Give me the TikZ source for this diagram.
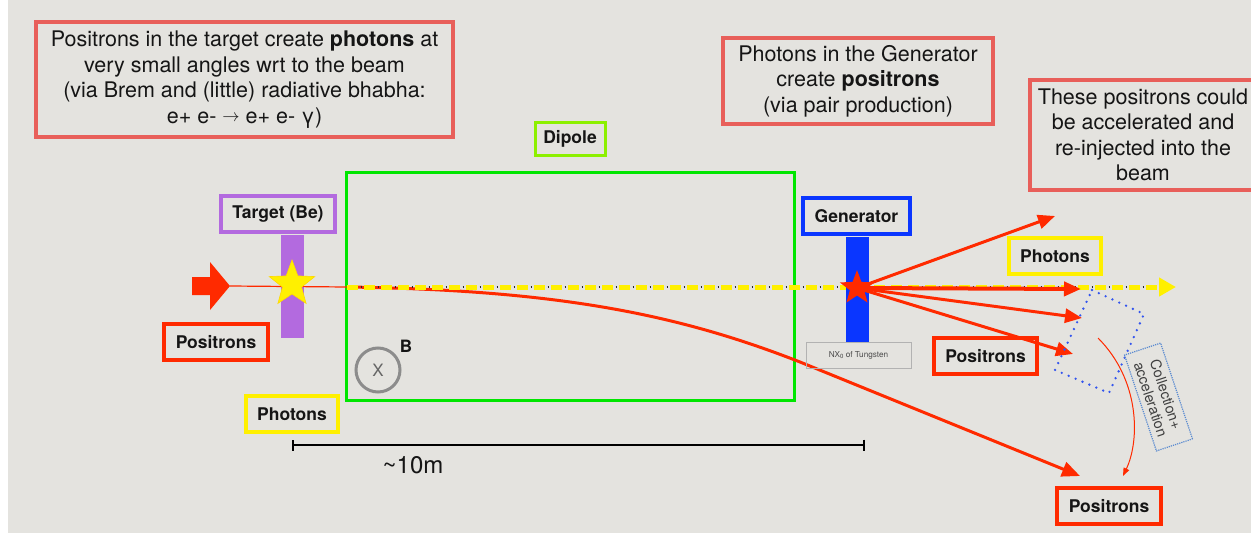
\documentclass[tikz,border=0pt]{standalone}
\usepackage{fontspec}
\setmainfont{TeX Gyre Heros}
\usetikzlibrary{shapes.geometric,arrows.meta}
\definecolor{bg}{HTML}{E4E3DF}
\definecolor{salmon}{HTML}{E85F5A}
\definecolor{pred}{HTML}{FF2A00}
\definecolor{dgreen}{HTML}{00E600}
\definecolor{lgreen}{HTML}{8CF000}
\definecolor{purp}{HTML}{B36ADF}
\definecolor{gblue}{HTML}{0A36FF}
\definecolor{yel}{HTML}{FFF000}
\definecolor{cgray}{HTML}{8C8C8C}
\definecolor{dotblue}{HTML}{3355EE}
\definecolor{steel}{HTML}{5A8AD0}
\definecolor{txt}{HTML}{151515}
\tikzset{
 note/.style={draw=salmon, line width=3.5pt, align=center, inner sep=0pt, text=txt, font=\fontsize{21.5}{25.5}\selectfont},
 tag/.style={line width=3.5pt, inner sep=0pt, text=txt, font=\bfseries\fontsize{17.5}{20}\selectfont, minimum height=36pt},
 ray/.style={pred, line width=3pt, -{Triangle[length=17pt,width=14pt]}},
 bar/.style={inner sep=0pt, minimum width=23pt},
}
\begin{document}
\begin{tikzpicture}[x=1pt,y=-1pt]
\useasboundingbox (0,0) rectangle (1251,533);
\fill[bg] (8,0) rectangle (1251,533);

% explanatory notes
\node[note, minimum width=417pt, minimum height=115pt] (n1) at (244.5,79.5)
 {Positrons in the target create \textbf{photons} at\\ very small angles wrt to the beam\\ (via Brem and (little) radiative bhabha:\\ e+ e- \raisebox{2pt}{\fontsize{17}{17}\selectfont$\rightarrow$} e+ e- γ)};
\node[note, minimum width=270pt, minimum height=86pt] (n2) at (858,81)
 {Photons in the Generator\\ create \textbf{positrons}\\ (via pair production)};
\node[note, minimum width=226pt, minimum height=110pt] (n3) at (1143,135)
 {These positrons could\\ be accelerated and\\ re-injected into the\\ beam};

% dipole
\node[draw=dgreen, line width=3pt, minimum width=448pt, minimum height=228pt, inner sep=0pt] (dipole) at (570,286) {};
\node[tag, draw=lgreen, line width=3pt, minimum width=70pt, minimum height=33pt] (diplab) at (570,138.5) {Dipole};
\node[circle, draw=cgray, line width=3pt, minimum size=44pt, inner sep=0pt, text=black!60, font=\fontsize{17}{17}\selectfont] (bfield) at (378,370) {X};
\node[text=txt, font=\bfseries\fontsize{17}{17}\selectfont] (blab) at (406,346) {B};

% target
\node[bar, fill=purp, minimum height=103pt] (tbar) at (292.5,286.5) {};
\node[tag, draw=purp, minimum width=114pt] (tlab) at (278,214) {Target (Be)};
\node[tag, draw=pred, minimum width=104pt] (po1) at (216,342) {Positrons};
\node[tag, draw=yel, minimum width=92pt] (ph1) at (292,414) {Photons};

% incoming beam
\coordinate (ain) at (230,286);
\coordinate (dipin) at (347,287);
\fill[pred] (192,277) -- (210,277) -- (210,262) -- (ain) -- (210,310) -- (210,295) -- (192,295) -- cycle;
\draw[pred, line width=1.2pt] (ain) -- (dipin);
\node[star, star points=5, star point ratio=2.4, fill=yel, draw=yel!80!orange, line width=0.6pt, minimum size=48pt, inner sep=0pt] (ystar) at (292,284) {};

% bent positrons
\coordinate (c3) at (1080,476);
\draw[pred, line width=3pt, -{Triangle[length=18pt,width=15pt]}] (dipin) .. controls (560,290) and (680,315) .. (800,362) -- (c3);

% photon beam
\coordinate (gend) at (1176,287);
\coordinate (dend) at (1158,287);
\draw[black!85, line width=2pt, dash pattern=on 1.5pt off 15.5pt, dash phase=3.5pt] (dipin) -- (dend);
\draw[yel, line width=5pt, dash pattern=on 11pt off 6pt, -{Triangle[length=17pt,width=18pt]}] (dipin) -- (gend);

% generator
\node[bar, fill=gblue, minimum height=105pt] (gbar) at (857.5,289.5) {};
\node[tag, draw=gblue, minimum width=107pt] (glab) at (856.5,216) {Generator};
\node[draw=black!30, line width=1pt, minimum width=105pt, minimum height=26pt, inner sep=0pt, text=black!70, font=\fontsize{8.2}{10}\selectfont] (nx) at (858.5,355) {NX\raisebox{-1.5pt}{\fontsize{6}{6}\selectfont 0} of Tungsten};

\coordinate (g) at (857,288);
\coordinate (t1) at (1055,216);
\coordinate (t2) at (1081,289);
\coordinate (t3) at (1082,318);
\coordinate (t4) at (1073,354);
\draw[ray] (g) -- (t1);
\draw[ray, line width=4pt] (g) -- (t2);
\draw[ray] (g) -- (t3);
\draw[ray] (g) -- (t4);
\node[star, star points=5, star point ratio=2.4, fill=pred, minimum size=36pt, inner sep=0pt] (rstar) at (g) {};

\node[tag, draw=yel, minimum width=92pt] (ph2) at (1055,256) {Photons};
\node[tag, draw=pred, minimum width=103pt] (po2) at (985.5,356) {Positrons};
\node[tag, draw=pred, minimum width=104pt] (po3) at (1109,506) {Positrons};

% collection region
\draw[dotblue, line width=2.6pt, line cap=round, dash pattern=on 0pt off 7.5pt] (1092,290) -- (1144,314) -- (1109,393) -- (1055,370) -- cycle;
\node[draw=steel, densely dotted, line width=1.2pt, rotate=-71.6, minimum width=101pt, minimum height=38pt, inner sep=0pt, align=center, text=black!75, font=\fontsize{14.5}{16}\selectfont] (coll) at (1158.5,397) {Collection+\\acceleration};
\coordinate (ca) at (1098,338);
\coordinate (cb) at (1123,476);
\draw[pred, line width=1pt, -{Triangle[length=8pt,width=6pt]}] (ca) .. controls (1140,380) and (1140,440) .. (cb);

% scale
\coordinate (s1) at (292,445);
\coordinate (s2) at (865,445);
\draw[black, line width=2.5pt, {Bar[width=11pt,line width=2pt]}-{Bar[width=11pt,line width=2pt]}] (s1) -- (s2);
\node[text=txt, font=\fontsize{24}{24}\selectfont] (len) at (413,465) {\textasciitilde 10m};
\end{tikzpicture}
\end{document}
